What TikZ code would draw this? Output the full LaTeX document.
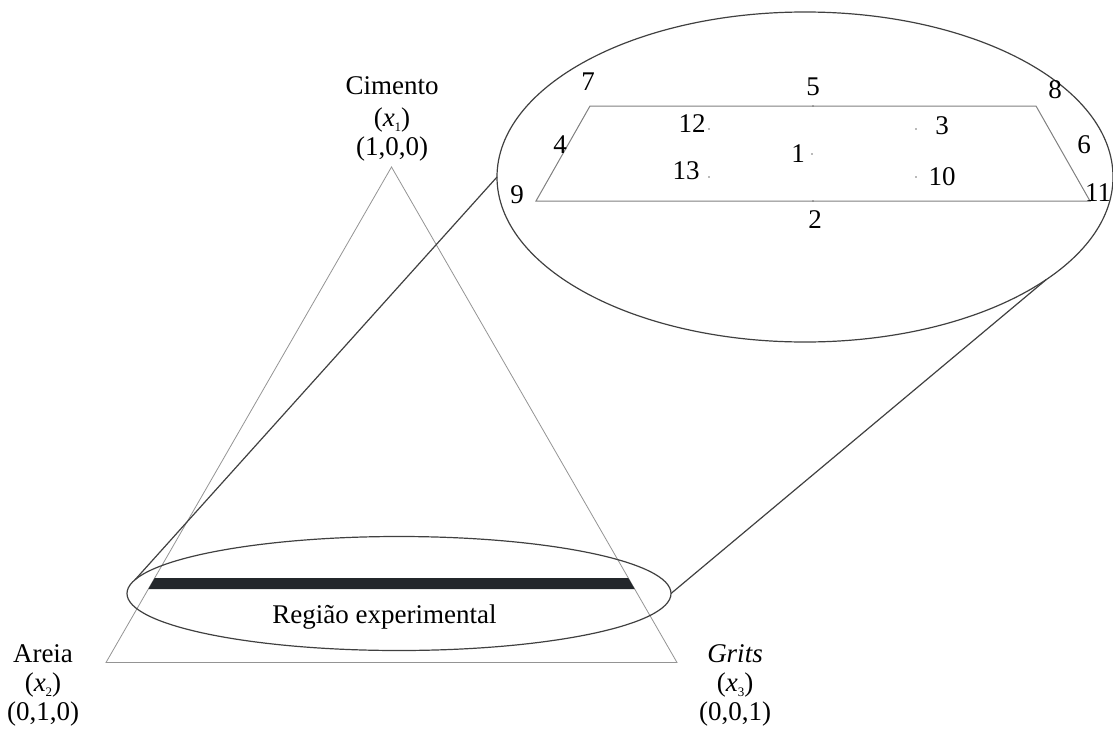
\documentclass[tikz,border=0pt]{standalone}
\usepackage{fontspec}
\setmainfont{Liberation Serif}
\usetikzlibrary{shapes.geometric,calc}
\definecolor{barc}{HTML}{23272B}
\newcommand\mysubs[1]{\raisebox{-0.22em}{\fontsize{13}{13}\selectfont #1}}
\begin{document}
\begin{tikzpicture}[x=1pt,y=-1pt,
  tri/.style={draw=black!42,line width=0.8pt},
  ell/.style={ellipse,draw=black!75,line width=1.2pt,inner sep=0pt,outer sep=0pt},
  link/.style={draw=black!75,line width=1.2pt},
  trap/.style={draw=black!50,line width=1pt},
  lbl/.style={font=\fontsize{27}{32}\selectfont,inner sep=0pt},
  num/.style={font=\fontsize{27}{32}\selectfont,inner sep=0pt},
  dotp/.style={circle,fill=black!55,inner sep=0pt,minimum size=1.8pt},
]
\useasboundingbox (0,0) rectangle (1113,728);
% triangle
\coordinate (A) at (391.5,167);
\coordinate (B) at (106,662.5);
\coordinate (C) at (677,662.5);
\draw[tri] (A) -- (B) -- (C) -- cycle;
% experimental strip
\fill[barc] ($(B)!0.1483!(A)$) -- ($(B)!0.1705!(A)$) -- ($(C)!0.1705!(A)$) -- ($(C)!0.1483!(A)$) -- cycle;
% ellipses
\node[ell,minimum width=544pt,minimum height=114pt] (small) at (399,593.5) {};
\node[ell,minimum width=616pt,minimum height=330pt] (big) at (805,177) {};
\draw[link] (small.177.7) -- (big.180);
\draw[link] (small.0) -- (big.-23);
% trapezoid
\coordinate (TL) at (590,106);
\coordinate (TR) at (1036,106);
\coordinate (BR) at (1090,201);
\coordinate (BL) at (536,201);
\draw[trap] (TL) -- (TR) -- (BR) -- (BL) -- cycle;
% design points
\node[dotp] (p5) at (813,106) {};
\node[dotp] (p2) at (813,201) {};
\node[dotp] (p12) at (709,129) {};
\node[dotp] (p3) at (916,129) {};
\node[dotp] (p1) at (812,154) {};
\node[dotp] (p13) at (709,177) {};
\node[dotp] (p10) at (916,177) {};
% point labels
\node[num] (l7) at (588,82) {7};
\node[num] (l5) at (813,87) {5};
\node[num] (l8) at (1055,90) {8};
\node[num] (l12) at (692,124) {12};
\node[num] (l3) at (942,126) {3};
\node[num] (l4) at (560,145) {4};
\node[num] (l6) at (1084,145) {6};
\node[num] (l1) at (798,154) {1};
\node[num] (l13) at (686,171) {13};
\node[num] (l10) at (942,177) {10};
\node[num] (l9) at (517,195) {9};
\node[num] (l11) at (1098,193) {11};
\node[num] (l2) at (815,220) {2};
% vertex labels
\node[lbl,anchor=base] (cim) at (392,94) {Cimento};
\node[lbl,anchor=base] (cimx) at (392,126) {(\textit{x}\mysubs{1})};
\node[lbl,anchor=base] (cimc) at (392,155) {(1,0,0)};
\node[lbl,anchor=base] (are) at (43,662) {Areia};
\node[lbl,anchor=base] (arex) at (43,691) {(\textit{x}\mysubs{2})};
\node[lbl,anchor=base] (arec) at (43,720) {(0,1,0)};
\node[lbl,anchor=base] (gri) at (735,662) {\textit{Grits}};
\node[lbl,anchor=base] (grix) at (735,691) {(\textit{x}\mysubs{3})};
\node[lbl,anchor=base] (gric) at (735,720) {(0,0,1)};
\node[lbl,anchor=base] (reg) at (384.5,623) {Região experimental};
\end{tikzpicture}
\end{document}
